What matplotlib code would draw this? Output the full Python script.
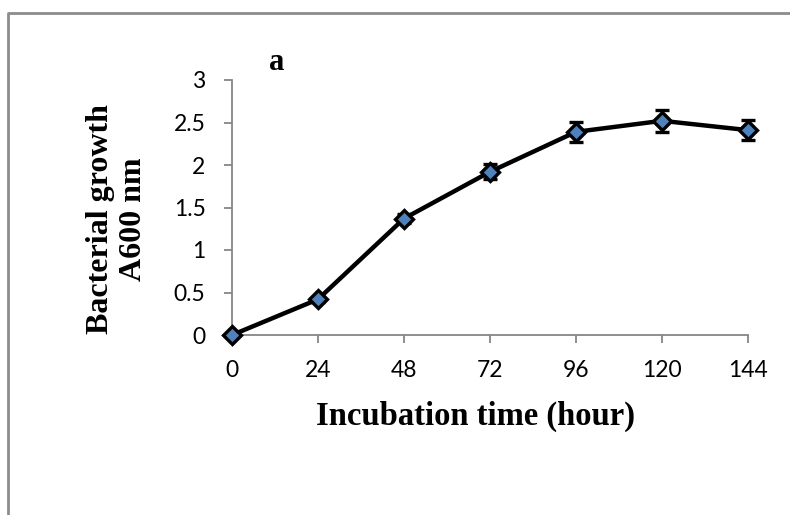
import matplotlib
matplotlib.use("Agg")
import matplotlib.pyplot as plt
from matplotlib.lines import Line2D

# incubation time (hours) and absorbance readings
hours = [0, 24, 48, 72, 96, 120, 144]
growth = [0.0, 0.42, 1.37, 1.92, 2.39, 2.52, 2.41]
err = [0.0, 0.03, 0.05, 0.09, 0.12, 0.13, 0.12]
yticks = [0, 0.5, 1, 1.5, 2, 2.5, 3]
ytick_labels = ["0", "0.5", "1", "1.5", "2", "2.5", "3"]

W, H = 790, 515
fig = plt.figure(figsize=(W / 100, H / 100), dpi=100)
fig.patch.set_facecolor("white")

# outer frame (top and left edges visible)
frame_col = "#8c8c8c"
fig.add_artist(Line2D([8 / W, 8 / W, 1.0], [0.0, 1 - 13 / H, 1 - 13 / H],
                      transform=fig.transFigure, color=frame_col, lw=2))

ax = fig.add_axes([232 / W, 1 - 335 / H, (748 - 232) / W, (335 - 80) / H])

ax.errorbar(hours, growth, yerr=err, color="black", lw=3.2, ecolor="black",
            elinewidth=1.6, capsize=5, capthick=1.6, marker="D", markersize=9,
            markerfacecolor="#4f81bd", markeredgecolor="black",
            markeredgewidth=2.4, clip_on=False, zorder=3)

ax.set_xlim(0, 144)
ax.set_ylim(0, 3)
ax.set_xticks(hours)
ax.set_xticklabels([str(h) for h in hours])
ax.set_yticks(yticks)
ax.set_yticklabels(ytick_labels)

for s in ["top", "right"]:
    ax.spines[s].set_visible(False)
for s in ["left", "bottom"]:
    ax.spines[s].set_color("#868686")
    ax.spines[s].set_linewidth(1.3)

ax.tick_params(direction="out", length=6, width=1.3, color="#868686",
               labelsize=16.5)
for lab in ax.get_xticklabels() + ax.get_yticklabels():
    lab.set_family("Lato")
ax.tick_params(axis="x", pad=12)
ax.tick_params(axis="y", pad=13)

serif = "Liberation Serif"
fig.text(476 / W, 1 - 416 / H, "Incubation time (hour)", ha="center",
         va="center", family=serif, weight="bold", fontsize=23.5)
fig.text(117 / W, 1 - 219 / H, "Bacterial growth\nA600 nm", ha="center",
         va="center", rotation=90, family=serif, weight="bold", fontsize=23,
         multialignment="center", linespacing=1.15)
fig.text(277 / W, 1 - 63 / H, "a", ha="center", va="center", family=serif,
         weight="bold", fontsize=22)

fig.savefig("out.png", dpi=100)
